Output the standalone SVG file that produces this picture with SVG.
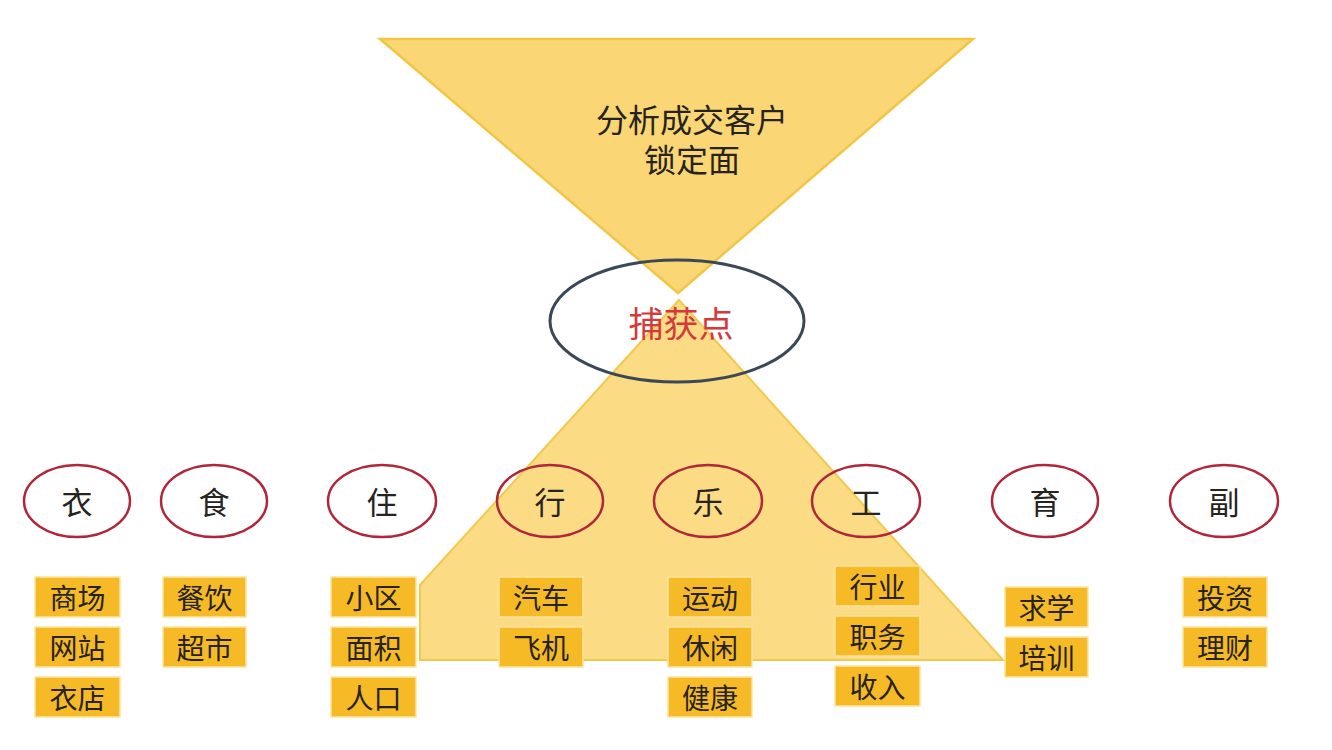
<svg xmlns="http://www.w3.org/2000/svg" width="1332" height="750" viewBox="0 0 1332 750">
<style>
.t{font-family:"Noto Sans CJK SC","Noto Sans",sans-serif;fill:#262320;text-anchor:middle;dominant-baseline:central}
.cat{fill:none;stroke:#b0263a;stroke-width:2.5}
.box{fill:#f6ba26;stroke:#fbe3a0;stroke-width:1.5}
.bt{font-size:28px}
.ct{font-size:31px}
</style>
<rect width="1332" height="750" fill="#ffffff"/>
<g id="funnel-bottom">
<polygon points="679,300 420,585 420,660 1003,660" fill="#fbdb84" stroke="#f3c84c" stroke-width="2"/>
</g>
<g id="funnel-top">
<polygon points="380,39 973,39 678,293" fill="#fad674" stroke="#f2c545" stroke-width="2.5"/>
<text class="t" x="692" y="118" font-size="32">分析成交客户</text>
<text class="t" x="692" y="158" font-size="32">锁定面</text>
</g>
<g id="capture">
<ellipse cx="677" cy="321" rx="127" ry="61" fill="none" stroke="#3b4858" stroke-width="3"/>
<text class="t" x="681" y="321" font-size="35" style="fill:#d23a3c">捕获点</text>
</g>
<g id="connectors"></g>
<g id="cat-yi"><ellipse class="cat" cx="77" cy="501" rx="53" ry="36"/><text class="t ct" x="77" y="500">衣</text></g>
<g id="cat-shi"><ellipse class="cat" cx="214" cy="501" rx="53" ry="36"/><text class="t ct" x="214" y="500">食</text></g>
<g id="cat-zhu"><ellipse class="cat" cx="382" cy="501" rx="54" ry="36"/><text class="t ct" x="382" y="500">住</text></g>
<g id="cat-xing"><ellipse class="cat" cx="550" cy="501" rx="53" ry="36"/><text class="t ct" x="550" y="500">行</text></g>
<g id="cat-le"><ellipse class="cat" cx="708" cy="501" rx="54" ry="36"/><text class="t ct" x="708" y="500">乐</text></g>
<g id="cat-gong"><ellipse class="cat" cx="866" cy="501" rx="54" ry="36"/><text class="t ct" x="866" y="500">工</text></g>
<g id="cat-yu"><ellipse class="cat" cx="1045" cy="501" rx="53" ry="36"/><text class="t ct" x="1045" y="500">育</text></g>
<g id="cat-fu"><ellipse class="cat" cx="1224" cy="501" rx="54" ry="36"/><text class="t ct" x="1224" y="500">副</text></g>

<g id="items-yi">
<rect class="box" x="35" y="577" width="85" height="40"/><text class="t bt" x="77.5" y="597">商场</text>
<rect class="box" x="35" y="627" width="85" height="40"/><text class="t bt" x="77.5" y="647">网站</text>
<rect class="box" x="35" y="677" width="85" height="40"/><text class="t bt" x="77.5" y="697">衣店</text>
</g>
<g id="items-shi">
<rect class="box" x="163" y="577" width="83" height="40"/><text class="t bt" x="204.5" y="597">餐饮</text>
<rect class="box" x="163" y="627" width="83" height="40"/><text class="t bt" x="204.5" y="647">超市</text>
</g>
<g id="items-zhu">
<rect class="box" x="331" y="577" width="85" height="40"/><text class="t bt" x="373.5" y="597">小区</text>
<rect class="box" x="331" y="627" width="85" height="40"/><text class="t bt" x="373.5" y="647">面积</text>
<rect class="box" x="331" y="677" width="85" height="40"/><text class="t bt" x="373.5" y="697">人口</text>
</g>
<g id="items-xing">
<rect class="box" x="499" y="577" width="84" height="40"/><text class="t bt" x="541" y="597">汽车</text>
<rect class="box" x="499" y="627" width="84" height="40"/><text class="t bt" x="541" y="647">飞机</text>
</g>
<g id="items-le">
<rect class="box" x="668" y="577" width="84" height="40"/><text class="t bt" x="710" y="597">运动</text>
<rect class="box" x="668" y="627" width="84" height="40"/><text class="t bt" x="710" y="647">休闲</text>
<rect class="box" x="668" y="677" width="84" height="40"/><text class="t bt" x="710" y="697">健康</text>
</g>
<g id="items-gong">
<rect class="box" x="835" y="566" width="85" height="40"/><text class="t bt" x="877.5" y="586">行业</text>
<rect class="box" x="835" y="616" width="85" height="40"/><text class="t bt" x="877.5" y="636">职务</text>
<rect class="box" x="835" y="666" width="85" height="40"/><text class="t bt" x="877.5" y="686">收入</text>
</g>
<g id="items-yu">
<rect class="box" x="1005" y="587" width="83" height="40"/><text class="t bt" x="1046.5" y="607">求学</text>
<rect class="box" x="1005" y="637" width="83" height="40"/><text class="t bt" x="1046.5" y="657">培训</text>
</g>
<g id="items-fu">
<rect class="box" x="1183" y="577" width="84" height="40"/><text class="t bt" x="1225" y="597">投资</text>
<rect class="box" x="1183" y="627" width="84" height="40"/><text class="t bt" x="1225" y="647">理财</text>
</g>
</svg>
